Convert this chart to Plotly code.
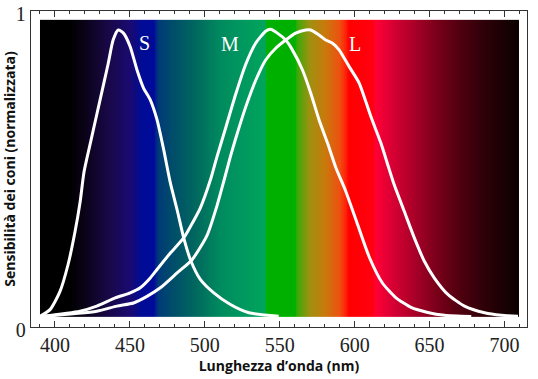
import numpy as np
import plotly.graph_objects as go

# ---- data ----
S_nm = [390.0, 396.7, 403.3, 408.7, 413.4, 416.7, 419.4, 424.1, 430.1, 435.5, 438.8, 442.2,
        445.7, 450.2, 454.7, 459.1, 463.6, 468.1, 472.5, 477.0, 481.5, 485.9, 490.4, 497.1,
        506.0, 517.1, 529.4, 549.3]
S_val = [0.034, 0.055, 0.112, 0.197, 0.302, 0.393, 0.491, 0.592, 0.719, 0.833, 0.908, 0.940,
         0.930, 0.887, 0.814, 0.756, 0.719, 0.656, 0.562, 0.456, 0.371, 0.282, 0.213, 0.150,
         0.108, 0.071, 0.045, 0.034]

M_nm = [390.0, 416.7, 427.9, 440.2, 450.2, 456.9, 463.6, 468.1, 477.0, 485.9, 490.4, 497.1,
        503.7, 508.2, 513.8, 520.5, 527.2, 533.9, 540.6, 543.9, 548.4, 554.0, 558.4, 565.1,
        570.7, 576.2, 581.9, 587.4, 594.1, 600.8, 609.5, 618.4, 627.4, 637.6, 648.8, 659.9, 677.8]
M_val = [0.033, 0.050, 0.066, 0.092, 0.108, 0.124, 0.155, 0.182, 0.234, 0.282, 0.318, 0.378,
         0.465, 0.540, 0.628, 0.735, 0.830, 0.898, 0.936, 0.942, 0.930, 0.908, 0.877, 0.814,
         0.740, 0.656, 0.582, 0.505, 0.429, 0.340, 0.224, 0.140, 0.093, 0.062, 0.046, 0.037, 0.033]

L_nm = [390.0, 427.9, 441.3, 452.4, 461.4, 470.3, 481.5, 491.5, 501.5, 508.2, 512.7, 517.1,
        520.5, 527.2, 533.9, 540.6, 547.3, 554.0, 560.6, 567.3, 570.7, 576.2, 580.7, 585.2,
        589.6, 596.3, 603.0, 610.8, 617.5, 623.1, 626.4, 633.1, 639.8, 646.5, 653.2, 662.2,
        673.3, 686.7, 697.9, 709.0]
L_val = [0.033, 0.050, 0.066, 0.076, 0.097, 0.124, 0.171, 0.213, 0.290, 0.385, 0.462, 0.540,
         0.595, 0.695, 0.780, 0.845, 0.882, 0.908, 0.930, 0.940, 0.940, 0.924, 0.908, 0.898,
         0.877, 0.824, 0.772, 0.666, 0.582, 0.498, 0.450, 0.366, 0.282, 0.208, 0.155, 0.103,
         0.066, 0.045, 0.037, 0.034]

cone_labels = ["S", "M", "L"]
label_nm = [459.8, 516.7, 600.3]
label_val = [0.898, 0.895, 0.895]

# visible spectrum band behind the curves
spec_nm = [390, 410, 420, 435, 450, 458, 466, 469, 480, 495, 510, 525, 540, 541.5, 560,
           562, 570, 580, 590, 594, 596, 612, 614, 625, 640, 655, 670, 685, 700, 709.4]
spec_color = ["#000000", "#000000", "#0a0318", "#180845", "#1a0a70", "#000c96", "#000a9a",
              "#003a78", "#004f68", "#006a5e", "#008a5e", "#009860", "#00a55a", "#00b000",
              "#00b000", "#40a808", "#a09010", "#c87a0c", "#ee5010", "#ff2008", "#ff0000",
              "#ff0010", "#ff0035", "#d80033", "#a80028", "#780018", "#500010", "#300008",
              "#180203", "#0c0000"]
band_bottom, band_top = 0.033, 0.972

x_ticks = [400, 450, 500, 550, 600, 650, 700]
y_ticks = [0, 1]

# ---- figure ----
lo, hi = spec_nm[0], spec_nm[-1]
cscale = [[(n - lo) / (hi - lo), c] for n, c in zip(spec_nm, spec_color)]
edges = np.arange(lo, hi + 0.25, 0.5)
centers = (edges[:-1] + edges[1:]) / 2

fig = go.Figure()
fig.add_trace(go.Heatmap(z=[centers], x=edges, y=[band_bottom, band_top],
                         colorscale=cscale, zmin=lo, zmax=hi, showscale=False,
                         hoverinfo="skip"))
for xs, ys in [(S_nm, S_val), (M_nm, M_val), (L_nm, L_val)]:
    fig.add_trace(go.Scatter(x=xs, y=ys, mode="lines",
                             line=dict(color="white", width=3, shape="spline", smoothing=0.6),
                             showlegend=False, hoverinfo="skip"))

for t, xn, yv in zip(cone_labels, label_nm, label_val):
    fig.add_annotation(x=xn, y=yv, text=t, showarrow=False,
                       font=dict(family="Liberation Serif", size=20, color="white"))

axis_line = "#333333"
fig.update_layout(
    width=538, height=379,
    margin=dict(l=31, r=11, t=11, b=52, autoexpand=False),
    paper_bgcolor="white", plot_bgcolor="white",
    hovermode=False,
    xaxis=dict(range=[384, 715], tickvals=x_ticks, ticks="inside", ticklen=6, tickwidth=1,
               tickcolor=axis_line, showline=True, linecolor=axis_line, linewidth=1.3,
               mirror="allticks", showgrid=False, zeroline=False, automargin=False,
               minor=dict(dtick=10, tick0=0, ticks="inside", ticklen=3, tickcolor=axis_line,
                          showgrid=False),
               tickfont=dict(family="Liberation Serif", size=20, color="#222222"),
               title=dict(text="Lunghezza d’onda (nm)", standoff=2,
                          font=dict(family="Open Sans", size=14, color="#111111", weight="bold"))),
    yaxis=dict(range=[0, 1], tickvals=y_ticks, ticks="", showline=True, linecolor=axis_line,
               linewidth=1.3, mirror=True, showgrid=False, zeroline=False, automargin=False,
               ticklabelshift=3, ticklabelstandoff=0,
               tickfont=dict(family="Liberation Serif", size=20, color="#222222"),
               title=dict(text="Sensibilità dei coni (normalizzata)", standoff=0,
                          font=dict(family="Open Sans", size=14, color="#111111", weight="bold"))),
)

fig.write_html("out.html", config={"displayModeBar": False, "staticPlot": True},
               post_script="document.body.style.margin='0';document.body.style.overflow='hidden';")
